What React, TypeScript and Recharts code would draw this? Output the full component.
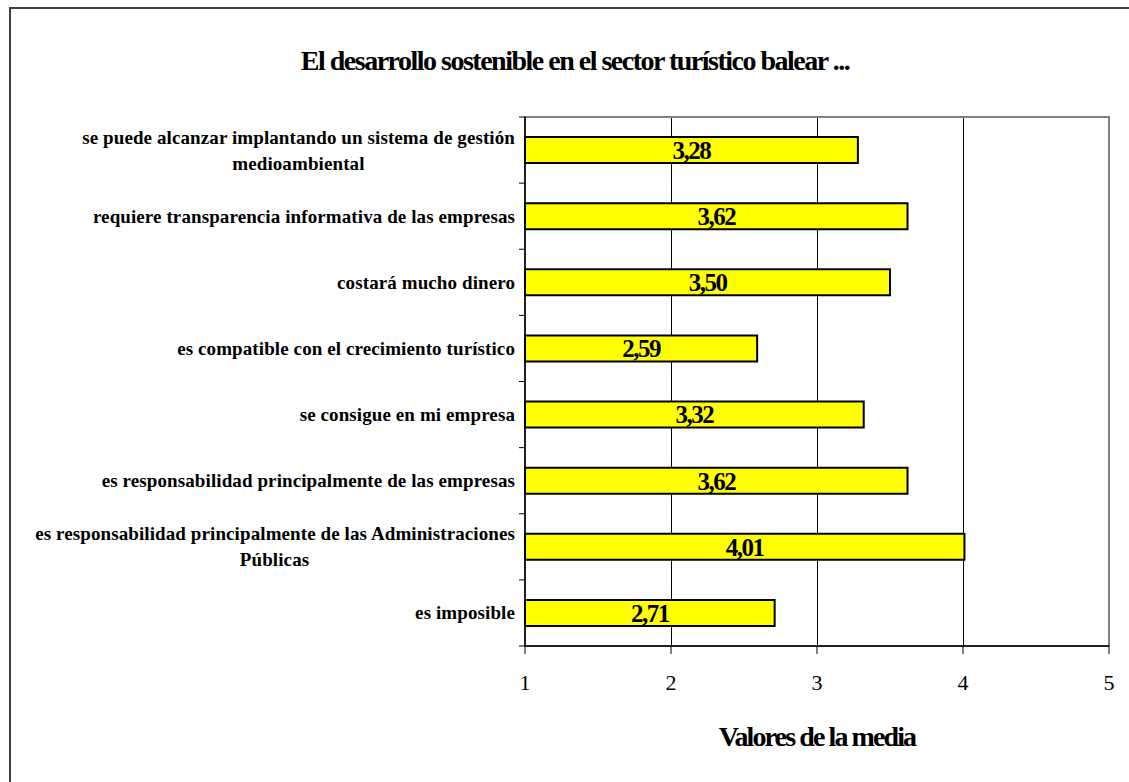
import { Bar, BarChart, CartesianGrid, LabelList, ReferenceArea, XAxis, YAxis } from 'recharts';

const categories = [
  'se puede alcanzar implantando un sistema de gestión\nmedioambiental',
  'requiere transparencia informativa de las empresas',
  'costará mucho dinero',
  'es compatible con el crecimiento turístico',
  'se consigue en mi empresa',
  'es responsabilidad principalmente de las empresas',
  'es responsabilidad principalmente de las Administraciones\nPúblicas',
  'es imposible',
];
const means = [3.28, 3.62, 3.5, 2.59, 3.32, 3.62, 4.01, 2.71];
const xTicks = [1, 2, 3, 4, 5];

const data = categories.map((name, i) => ({ name, value: means[i] }));

const SERIF = "'Liberation Serif', 'Times New Roman', serif";
const W = 1129;
const H = 782;
const PLOT_TOP = 117;
const PLOT_BOTTOM = 646;
const PLOT_LEFT = 525;
const LABEL_FONT = 19;
const LABEL_SPACING = 0.1;

let ctx: CanvasRenderingContext2D | null = null;
function measure(text: string) {
  if (!ctx) ctx = document.createElement('canvas').getContext('2d');
  if (!ctx) return text.length * 8;
  ctx.font = `bold ${LABEL_FONT}px ${SERIF}`;
  (ctx as any).letterSpacing = `${LABEL_SPACING}px`;
  return ctx.measureText(text).width;
}

const CategoryTick = (props: any) => {
  const { y, payload, index } = props;
  const lines = String(payload.value).split('\n');
  const half = (PLOT_BOTTOM - PLOT_TOP) / categories.length / 2;
  const right = PLOT_LEFT - 10;
  const common = {
    fontFamily: SERIF,
    fontWeight: 'bold' as const,
    fontSize: LABEL_FONT,
    letterSpacing: LABEL_SPACING,
    fill: '#000',
    dominantBaseline: 'central' as const,
  };
  let text;
  if (lines.length === 1) {
    text = (
      <text x={right} y={y} textAnchor="end" {...common}>
        {lines[0]}
      </text>
    );
  } else {
    const center = right - measure(lines[0]) / 2;
    text = (
      <g>
        <text x={right} y={y - 13} textAnchor="end" {...common}>
          {lines[0]}
        </text>
        <text x={center} y={y + 13} textAnchor="middle" {...common}>
          {lines[1]}
        </text>
      </g>
    );
  }
  return (
    <g>
      {text}
      <line x1={PLOT_LEFT - 6} x2={PLOT_LEFT} y1={y - half} y2={y - half} stroke="#000" />
      {index === categories.length - 1 && (
        <line x1={PLOT_LEFT - 6} x2={PLOT_LEFT} y1={y + half} y2={y + half} stroke="#000" />
      )}
    </g>
  );
};

export default function App() {
  return (
    <div style={{ position: 'relative', width: W, height: H, overflow: 'hidden', background: '#fff' }}>
      <style>{'body{margin:0;overflow:hidden}'}</style>
      <div
        style={{
          position: 'absolute',
          left: 9,
          top: 7,
          width: 1140,
          height: 800,
          borderLeft: '2px solid #404040',
          borderTop: '2px solid #404040',
        }}
      />
      <div
        style={{
          position: 'absolute',
          left: 75,
          width: 1000,
          top: 43,
          textAlign: 'center',
          fontFamily: SERIF,
          fontWeight: 'bold',
          fontSize: 28,
          letterSpacing: -1.5,
          lineHeight: '36px',
          color: '#000',
        }}
      >
        El desarrollo sostenible en el sector turístico balear ...
      </div>
      <div
        style={{
          position: 'absolute',
          left: 517,
          width: 600,
          top: 719,
          textAlign: 'center',
          fontFamily: SERIF,
          fontWeight: 'bold',
          fontSize: 28,
          letterSpacing: -1.9,
          lineHeight: '36px',
          color: '#000',
        }}
      >
        Valores de la media
      </div>
      <div style={{ position: 'absolute', left: 0, top: 0 }}>
        <BarChart
          width={W}
          height={H}
          data={data}
          layout="vertical"
          margin={{ top: PLOT_TOP, right: 20, left: 0, bottom: H - PLOT_BOTTOM - 60 }}
          barSize={26}
        >
          <CartesianGrid horizontal={false} vertical stroke="#000" strokeWidth={1} shapeRendering="crispEdges" />
          <ReferenceArea x1={1} x2={5} fill="none" stroke="#808080" strokeWidth={2} ifOverflow="visible" />
          <XAxis
            type="number"
            domain={[1, 5]}
            ticks={xTicks}
            allowDecimals={false}
            height={60}
            axisLine={{ stroke: '#000', strokeWidth: 1.5 }}
            tickLine={{ stroke: '#000' }}
            tickSize={8}
            tickMargin={20}
            tick={{ fontFamily: SERIF, fontSize: 22, fill: '#000' }}
          />
          <YAxis
            type="category"
            dataKey="name"
            width={PLOT_LEFT}
            axisLine={{ stroke: '#000', strokeWidth: 1.5 }}
            tickLine={false}
            tickSize={6}
            tickMargin={4}
            interval={0}
            tick={<CategoryTick />}
          />
          <Bar dataKey="value" fill="#FFFF00" stroke="#000" strokeWidth={2} isAnimationActive={false}>
            <LabelList
              dataKey="value"
              position="center"
              formatter={(v: any) => Number(v).toFixed(2).replace('.', ',')}
              style={{ fontFamily: SERIF, fontWeight: 'bold', fontSize: 25, letterSpacing: -1.5, fill: '#000' }}
            />
          </Bar>
        </BarChart>
      </div>
    </div>
  );
}
